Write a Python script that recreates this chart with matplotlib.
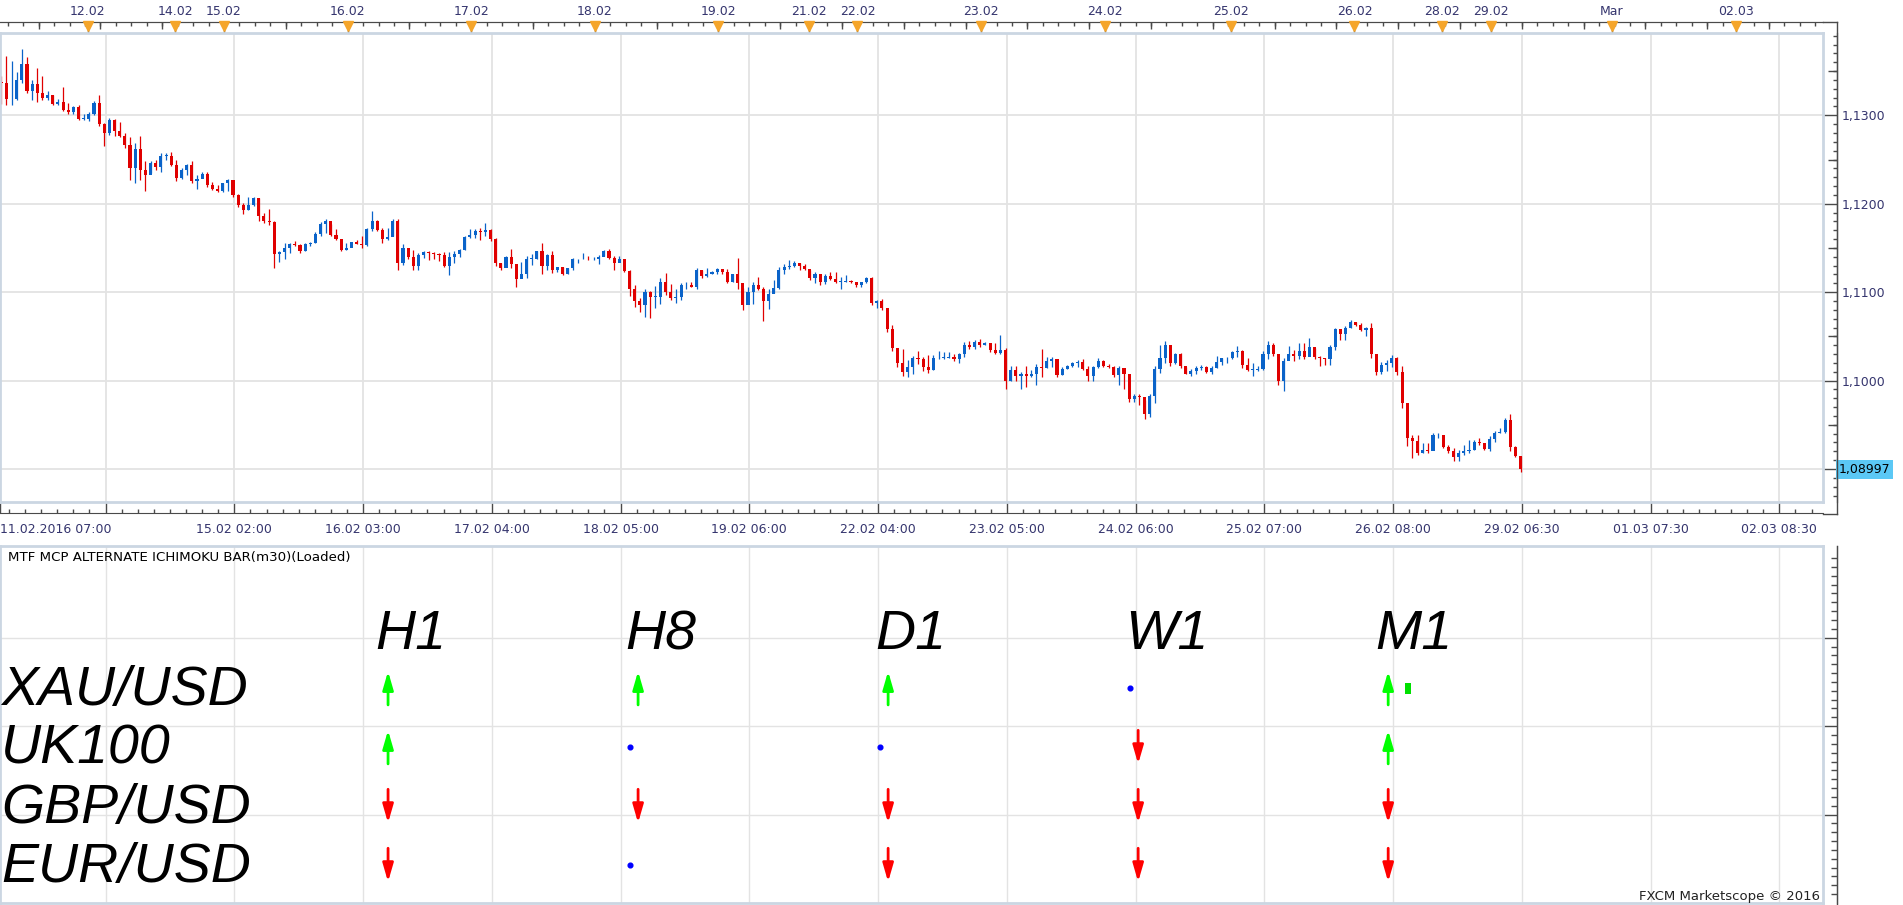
import numpy as np
import matplotlib.pyplot as plt
from matplotlib.lines import Line2D
from matplotlib.patches import Rectangle
from matplotlib.transforms import blended_transform_factory

first_open = 1.1338
high = [1.1344, 1.1367, 1.1361, 1.1349, 1.1375, 1.1366, 1.1340, 1.1354, 1.1344, 1.1327,
        1.1323, 1.1318, 1.1332, 1.1314, 1.1310, 1.1312, 1.1302, 1.1304, 1.1316, 1.1323,
        1.1291, 1.1297, 1.1296, 1.1292, 1.1280, 1.1276, 1.1269, 1.1277, 1.1248, 1.1248,
        1.1249, 1.1257, 1.1257, 1.1258, 1.1250, 1.1240, 1.1245, 1.1248, 1.1233, 1.1236,
        1.1236, 1.1225, 1.1221, 1.1224, 1.1228, 1.1225, 1.1211, 1.1201, 1.1208, 1.1208,
        1.1206, 1.1190, 1.1194, 1.1180, 1.1146, 1.1156, 1.1156, 1.1158, 1.1154, 1.1156,
        1.1157, 1.1168, 1.1179, 1.1183, 1.1177, 1.1171, 1.1160, 1.1156, 1.1157, 1.1159,
        1.1163, 1.1173, 1.1192, 1.1182, 1.1172, 1.1172, 1.1183, 1.1183, 1.1155, 1.1148,
        1.1148, 1.1144, 1.1146, 1.1146, 1.1145, 1.1144, 1.1145, 1.1145, 1.1146, 1.1149,
        1.1164, 1.1171, 1.1171, 1.1173, 1.1178, 1.1171, 1.1161, 1.1133, 1.1141, 1.1149,
        1.1131, 1.1134, 1.1141, 1.1143, 1.1146, 1.1156, 1.1143, 1.1146, 1.1129, 1.1128,
        1.1127, 1.1139, 1.1138, 1.1144, 1.1141, 1.1140, 1.1142, 1.1148, 1.1149, 1.1141,
        1.1141, 1.1129, 1.1125, 1.1108, 1.1093, 1.1103, 1.1101, 1.1107, 1.1116, 1.1122,
        1.1109, 1.1104, 1.1110, 1.1111, 1.1112, 1.1127, 1.1125, 1.1127, 1.1124, 1.1127,
        1.1126, 1.1126, 1.1121, 1.1139, 1.1105, 1.1106, 1.1112, 1.1117, 1.1106, 1.1103,
        1.1114, 1.1129, 1.1132, 1.1136, 1.1135, 1.1133, 1.1132, 1.1125, 1.1123, 1.1120,
        1.1121, 1.1123, 1.1123, 1.1117, 1.1119, 1.1114, 1.1112, 1.1112, 1.1117, 1.1117,
        1.1091, 1.1092, 1.1080, 1.1063, 1.1035, 1.1036, 1.1023, 1.1028, 1.1034, 1.1027,
        1.1029, 1.1029, 1.1034, 1.1032, 1.1032, 1.1030, 1.1031, 1.1044, 1.1045, 1.1046,
        1.1047, 1.1044, 1.1041, 1.1042, 1.1051, 1.1037, 1.1016, 1.1017, 1.1010, 1.1017,
        1.1012, 1.1019, 1.1036, 1.1027, 1.1027, 1.1017, 1.1015, 1.1018, 1.1021, 1.1023,
        1.1024, 1.1016, 1.1017, 1.1025, 1.1023, 1.1019, 1.1016, 1.1016, 1.1014, 1.1000,
        1.0985, 1.0985, 1.0978, 1.0985, 1.1017, 1.1040, 1.1045, 1.1039, 1.1031, 1.1031,
        1.1015, 1.1013, 1.1016, 1.1018, 1.1017, 1.1016, 1.1028, 1.1026, 1.1027, 1.1034,
        1.1039, 1.1035, 1.1026, 1.1020, 1.1016, 1.1033, 1.1045, 1.1043, 1.1028, 1.1026,
        1.1039, 1.1035, 1.1043, 1.1043, 1.1048, 1.1037, 1.1028, 1.1026, 1.1040, 1.1060,
        1.1054, 1.1062, 1.1068, 1.1066, 1.1065, 1.1061, 1.1065, 1.1028, 1.1021, 1.1023,
        1.1029, 1.1027, 1.1017, 1.0975, 1.0939, 1.0939, 1.0929, 1.0929, 1.0941, 1.0941,
        1.0939, 1.0927, 1.0924, 1.0922, 1.0927, 1.0933, 1.0933, 1.0935, 1.0929, 1.0937,
        1.0943, 1.0946, 1.0958, 1.0962, 1.0926, 1.0915]
low = [1.1313, 1.1312, 1.1312, 1.1317, 1.1336, 1.1325, 1.1317, 1.1315, 1.1317, 1.1317,
       1.1312, 1.1312, 1.1305, 1.1302, 1.1302, 1.1295, 1.1295, 1.1293, 1.1300, 1.1288,
       1.1265, 1.1278, 1.1277, 1.1276, 1.1263, 1.1227, 1.1223, 1.1227, 1.1214, 1.1235,
       1.1238, 1.1236, 1.1250, 1.1243, 1.1226, 1.1228, 1.1232, 1.1223, 1.1217, 1.1229,
       1.1219, 1.1216, 1.1213, 1.1213, 1.1214, 1.1208, 1.1196, 1.1188, 1.1193, 1.1197,
       1.1180, 1.1178, 1.1176, 1.1127, 1.1134, 1.1137, 1.1144, 1.1152, 1.1144, 1.1147,
       1.1152, 1.1156, 1.1164, 1.1167, 1.1163, 1.1159, 1.1147, 1.1148, 1.1152, 1.1154,
       1.1150, 1.1152, 1.1169, 1.1169, 1.1156, 1.1159, 1.1163, 1.1125, 1.1131, 1.1137,
       1.1125, 1.1125, 1.1139, 1.1136, 1.1138, 1.1135, 1.1129, 1.1119, 1.1133, 1.1140,
       1.1148, 1.1161, 1.1161, 1.1159, 1.1164, 1.1158, 1.1130, 1.1125, 1.1129, 1.1127,
       1.1106, 1.1116, 1.1116, 1.1131, 1.1137, 1.1120, 1.1125, 1.1122, 1.1123, 1.1119,
       1.1120, 1.1125, 1.1133, 1.1137, 1.1136, 1.1136, 1.1132, 1.1141, 1.1137, 1.1125,
       1.1135, 1.1123, 1.1096, 1.1083, 1.1078, 1.1072, 1.1071, 1.1082, 1.1087, 1.1097,
       1.1091, 1.1088, 1.1091, 1.1103, 1.1106, 1.1103, 1.1116, 1.1117, 1.1120, 1.1121,
       1.1120, 1.1110, 1.1112, 1.1103, 1.1080, 1.1087, 1.1087, 1.1102, 1.1067, 1.1081,
       1.1099, 1.1103, 1.1121, 1.1126, 1.1128, 1.1125, 1.1125, 1.1114, 1.1110, 1.1108,
       1.1109, 1.1114, 1.1110, 1.1104, 1.1112, 1.1110, 1.1106, 1.1106, 1.1110, 1.1085,
       1.1082, 1.1080, 1.1055, 1.1034, 1.1015, 1.1005, 1.1004, 1.1007, 1.1019, 1.1011,
       1.1009, 1.1012, 1.1024, 1.1024, 1.1026, 1.1022, 1.1020, 1.1027, 1.1036, 1.1036,
       1.1038, 1.1040, 1.1032, 1.1030, 1.1030, 1.0991, 1.1000, 1.1000, 1.0990, 1.0993,
       1.1004, 1.0995, 1.1004, 1.1014, 1.1015, 1.1004, 1.1006, 1.1013, 1.1015, 1.1015,
       1.1012, 1.1000, 1.0999, 1.1014, 1.1015, 1.1014, 1.1004, 1.0995, 1.0991, 1.0976,
       1.0976, 1.0972, 1.0956, 1.0959, 1.0975, 1.1009, 1.1020, 1.1016, 1.1019, 1.1014,
       1.1007, 1.1005, 1.1008, 1.1012, 1.1009, 1.1007, 1.1014, 1.1018, 1.1020, 1.1024,
       1.1027, 1.1014, 1.1011, 1.1005, 1.1011, 1.1012, 1.1024, 1.1028, 1.0995, 1.0988,
       1.1027, 1.1022, 1.1024, 1.1024, 1.1031, 1.1024, 1.1016, 1.1018, 1.1018, 1.1035,
       1.1046, 1.1046, 1.1060, 1.1062, 1.1056, 1.1050, 1.1025, 1.1006, 1.1007, 1.1011,
       1.1015, 1.1006, 1.0969, 1.0926, 1.0912, 1.0916, 1.0918, 1.0918, 1.0924, 1.0935,
       1.0924, 1.0918, 1.0909, 1.0909, 1.0916, 1.0918, 1.0922, 1.0927, 1.0922, 1.0920,
       1.0931, 1.0941, 1.0941, 1.0920, 1.0914, 1.0897]
close = [1.1336, 1.1318, 1.1318, 1.1340, 1.1358, 1.1328, 1.1335, 1.1325, 1.1320, 1.1323,
         1.1313, 1.1315, 1.1306, 1.1304, 1.1309, 1.1296, 1.1296, 1.1302, 1.1314, 1.1290,
         1.1280, 1.1295, 1.1282, 1.1277, 1.1266, 1.1240, 1.1262, 1.1238, 1.1232, 1.1246,
         1.1242, 1.1254, 1.1254, 1.1244, 1.1229, 1.1238, 1.1244, 1.1226, 1.1228, 1.1234,
         1.1221, 1.1217, 1.1214, 1.1223, 1.1227, 1.1210, 1.1198, 1.1193, 1.1198, 1.1207,
         1.1186, 1.1180, 1.1179, 1.1143, 1.1145, 1.1150, 1.1155, 1.1153, 1.1146, 1.1155,
         1.1156, 1.1166, 1.1177, 1.1180, 1.1165, 1.1160, 1.1148, 1.1150, 1.1157, 1.1154,
         1.1153, 1.1171, 1.1180, 1.1170, 1.1160, 1.1162, 1.1180, 1.1133, 1.1150, 1.1140,
         1.1130, 1.1142, 1.1145, 1.1144, 1.1143, 1.1142, 1.1130, 1.1140, 1.1143, 1.1148,
         1.1162, 1.1165, 1.1169, 1.1168, 1.1170, 1.1160, 1.1133, 1.1127, 1.1140, 1.1132,
         1.1115, 1.1120, 1.1138, 1.1138, 1.1146, 1.1130, 1.1142, 1.1125, 1.1128, 1.1120,
         1.1127, 1.1137, 1.1137, 1.1138, 1.1137, 1.1137, 1.1140, 1.1146, 1.1139, 1.1133,
         1.1137, 1.1124, 1.1103, 1.1090, 1.1086, 1.1100, 1.1095, 1.1095, 1.1112, 1.1100,
         1.1093, 1.1095, 1.1108, 1.1108, 1.1106, 1.1125, 1.1118, 1.1120, 1.1123, 1.1126,
         1.1123, 1.1112, 1.1120, 1.1110, 1.1085, 1.1100, 1.1108, 1.1104, 1.1090, 1.1098,
         1.1105, 1.1125, 1.1128, 1.1130, 1.1133, 1.1130, 1.1126, 1.1116, 1.1120, 1.1112,
         1.1118, 1.1115, 1.1112, 1.1112, 1.1113, 1.1111, 1.1108, 1.1111, 1.1116, 1.1088,
         1.1090, 1.1082, 1.1058, 1.1037, 1.1020, 1.1010, 1.1015, 1.1025, 1.1024, 1.1015,
         1.1012, 1.1025, 1.1026, 1.1026, 1.1027, 1.1024, 1.1030, 1.1040, 1.1038, 1.1044,
         1.1040, 1.1042, 1.1035, 1.1031, 1.1035, 1.1000, 1.1012, 1.1005, 1.1008, 1.1005,
         1.1007, 1.1015, 1.1014, 1.1022, 1.1024, 1.1006, 1.1013, 1.1017, 1.1020, 1.1021,
         1.1013, 1.1005, 1.1015, 1.1022, 1.1016, 1.1015, 1.1006, 1.1014, 1.1008, 1.0979,
         1.0983, 1.0981, 1.0962, 1.0983, 1.1013, 1.1025, 1.1040, 1.1020, 1.1030, 1.1016,
         1.1008, 1.1011, 1.1014, 1.1015, 1.1010, 1.1014, 1.1021, 1.1025, 1.1026, 1.1032,
         1.1033, 1.1018, 1.1012, 1.1012, 1.1013, 1.1030, 1.1040, 1.1030, 1.1000, 1.1022,
         1.1030, 1.1028, 1.1033, 1.1027, 1.1038, 1.1027, 1.1025, 1.1024, 1.1038, 1.1058,
         1.1053, 1.1060, 1.1066, 1.1063, 1.1057, 1.1059, 1.1030, 1.1010, 1.1018, 1.1020,
         1.1026, 1.1010, 1.0975, 1.0935, 1.0932, 1.0918, 1.0922, 1.0920, 1.0938, 1.0938,
         1.0925, 1.0920, 1.0914, 1.0918, 1.0920, 1.0922, 1.0931, 1.0929, 1.0923, 1.0934,
         1.0941, 1.0942, 1.0955, 1.0925, 1.0915, 1.08997]

# time axis (m30 bar index), a grid line every 50 bars
first_label = '11.02.2016 07:00'
time_labels = ['', '15.02 02:00', '16.02 03:00', '17.02 04:00', '18.02 05:00',
               '19.02 06:00', '22.02 04:00', '23.02 05:00', '24.02 06:00',
               '25.02 07:00', '26.02 08:00', '29.02 06:30', '01.03 07:30', '02.03 08:30']
day_bars = [34, 68, 87, 135, 183, 231, 279, 314, 333, 381, 429, 478, 526, 560, 579, 626, 674]
day_labels = ['12.02', '14.02', '15.02', '16.02', '17.02', '18.02', '19.02', '21.02', '22.02',
              '23.02', '24.02', '25.02', '26.02', '28.02', '29.02', 'Mar', '02.03']
price_ticks = [1.09, 1.10, 1.11, 1.12, 1.13]

# MTF indicator pane
symbols = ['XAU/USD', 'UK100', 'GBP/USD', 'EUR/USD']
frames = ['H1', 'H8', 'D1', 'W1', 'M1']
signal = [[1, 1, 1, 0, 1],
          [1, 0, 0, -1, 1],
          [-1, -1, -1, -1, -1],
          [-1, 0, -1, -1, -1]]

## layout (pixels)

W, H = 1903, 905
PXB = 2.575           # pixels per m30 bar
PANE_R = 1823
AXIS_X = 1837
XMAX = PANE_R / PXB

frame_col = '#cbd6e2'
grid_col = '#e3e3e3'
axis_col = '#4a4a4a'
lab_col = '#35356e'
up_col = '#0a63c9'
dn_col = '#e00000'


def box(x0, y0, x1, y1):
    return [x0 / W, 1 - y1 / H, (x1 - x0) / W, (y1 - y0) / H]


def fline(x0, y0, x1, y1):
    fig.add_artist(Line2D([x0 / W, x1 / W], [1 - y0 / H, 1 - y1 / H],
                          color=axis_col, lw=1.0, transform=fig.transFigure))


def comma(v, nd=4):
    return f'{v:.{nd}f}'.replace('.', ',')


fig = plt.figure(figsize=(W / 100, H / 100), dpi=100)
grid_bars = 41 + 50 * np.arange(14)

## price pane

ax = fig.add_axes(box(0, 33, PANE_R, 502))
ax.set_xlim(0, XMAX)
ax.set_ylim(1.086268, 1.139307)

cl = np.array(close)
op = np.array([first_open] + close[:-1])
hi = np.array(high)
lo = np.array(low)
xs = 2 * np.arange(len(cl)) + 0.5
cols = np.where(cl >= op, up_col, dn_col)
ax.vlines(xs, lo, hi, colors=cols, lw=0.9)
ax.bar(xs, np.maximum(np.abs(cl - op), 0.00006), bottom=np.minimum(cl, op),
       width=1.2, color=cols, linewidth=0)

ax.set_xticks(grid_bars)
ax.set_yticks(price_ticks)
ax.grid(True, color=grid_col, lw=1.3)
ax.set_axisbelow(True)
ax.tick_params(length=0, labelbottom=False, labelleft=False)
for s in ax.spines.values():
    s.set_color(frame_col)
    s.set_linewidth(2)

# bottom ruler
sb = ax.secondary_xaxis(-11.5 / 469)
sb.set_xticks(np.concatenate([[0], grid_bars]), labels=[first_label] + time_labels)
sb.set_xticks(np.arange(41 - 6.25 * 6, XMAX, 6.25), minor=True)
sb.tick_params(which='major', direction='in', length=8.5, width=1, color=axis_col,
               labelsize=9, labelcolor=lab_col, pad=7)
sb.tick_params(which='minor', direction='in', length=3, width=1, color=axis_col)
sb.spines['bottom'].set_color(axis_col)
sb.get_xticklabels()[0].set_ha('left')

# top ruler with day markers
st = ax.secondary_xaxis(1 + 11 / 469)
st.set_xticks(day_bars, labels=day_labels)
st.set_xticks(np.arange(3, XMAX, 6), minor=True)
st.tick_params(which='major', direction='in', length=8, width=1, color=axis_col,
               labelsize=9, labelcolor=lab_col, pad=3)
st.tick_params(which='minor', direction='in', length=3, width=1, color=axis_col)
st.spines['top'].set_color(axis_col)
st2 = ax.secondary_xaxis(1 + 11 / 469)
st2.set_xticks(np.arange(15, XMAX, 24), labels=[])
st2.tick_params(direction='in', length=5, width=1, color=axis_col)
st2.spines['top'].set_color(axis_col)
tr = blended_transform_factory(ax.transData, ax.transAxes)
ax.plot(day_bars, [1 + 6.5 / 469] * len(day_bars), 'v', ms=7.5, color='#f5a52a',
        mec='#f5a52a', transform=tr, clip_on=False, zorder=5)

# right price axis
sr = ax.secondary_yaxis(1 + 14 / 1823)
sr.set_yticks(price_ticks, labels=[''] + [comma(v) for v in price_ticks[1:]])
sr.set_yticks(np.arange(1.087, 1.1395, 0.001), minor=True)
sr.tick_params(which='major', direction='in', length=10, width=1, color=axis_col,
               labelsize=9, labelcolor=lab_col, pad=3.5)
sr.tick_params(which='minor', direction='in', length=3, width=1, color=axis_col)
sr.spines['right'].set_color(axis_col)
sr2 = ax.secondary_yaxis(1 + 14 / 1823)
sr2.set_yticks(np.arange(1.085, 1.14, 0.01), labels=[])
sr2.tick_params(direction='in', length=6.5, width=1, color=axis_col)
sr2.spines['right'].set_color(axis_col)

ax.text(1 + 15.5 / 1823, close[-1], comma(close[-1], 5),
        transform=blended_transform_factory(ax.transAxes, ax.transData),
        ha='left', va='center', fontsize=9, color='black', clip_on=False, zorder=10,
        bbox=dict(boxstyle='square,pad=0.22', fc='#5bc8f5', ec='none'))

# axis line pieces outside the pane
fline(AXIS_X, 21.7, AXIS_X, 514)
fline(PANE_R, 21.7, AXIS_X, 21.7)
fline(PANE_R, 513.5, AXIS_X, 513.5)

## indicator pane

ax2 = fig.add_axes(box(0, 546, PANE_R, 903))
ax2.set_xlim(0, XMAX)
ax2.set_ylim(0, 357 / 88.43)
ax2.set_xticks(grid_bars)
ax2.set_yticks([1, 2, 3])
ax2.grid(True, color=grid_col, lw=1.0)
ax2.set_axisbelow(True)
ax2.tick_params(length=0, labelbottom=False, labelleft=False)
for s in ax2.spines.values():
    s.set_color(frame_col)
    s.set_linewidth(2)

srl = ax2.secondary_yaxis(1 + 14 / 1823)
srl.set_yticks([1, 2, 3], labels=[])
srl.set_yticks(np.arange(0.1, 4.0, 0.1), minor=True)
srl.tick_params(which='major', direction='in', length=10, width=1, color=axis_col)
srl.tick_params(which='minor', direction='in', length=4, width=1, color=axis_col)
srl.spines['right'].set_color(axis_col)
fline(AXIS_X, 546, AXIS_X, 905)

ax2.text(8 / 1823, (903 - 557) / 357, 'MTF MCP ALTERNATE ICHIMOKU BAR(m30)(Loaded)',
         transform=ax2.transAxes, ha='left', va='center', fontsize=9.6, color='black')

col_x = 150.7 + 97.1 * np.arange(len(frames))
row_y = 2.40 - 0.667 * np.arange(len(symbols))
big = dict(family='Liberation Sans', style='italic', fontsize=40, color='black')
for j, f in enumerate(frames):
    ax2.text(col_x[j] - 5, 3.03, f, ha='left', va='center', **big)
for i, s in enumerate(symbols):
    ax2.text(0.5, row_y[i], s, ha='left', va='center', **big)
    for j in range(len(frames)):
        sig = signal[i][j]
        if sig == 0:
            ax2.plot(col_x[j] - 3, row_y[i] + 0.03, 'o', ms=3.4, color='#0000ff', mec='#0000ff')
            continue
        c = '#00ff00' if sig > 0 else '#ff0000'
        y0, y1 = row_y[i] + 0.03 - 0.19 * sig, row_y[i] + 0.03 + 0.19 * sig
        ax2.annotate('', xy=(col_x[j], y1), xytext=(col_x[j], y0),
                     arrowprops=dict(arrowstyle='-|>,head_length=0.55,head_width=0.16',
                                     mutation_scale=20, color=c, lw=2.0,
                                     shrinkA=0, shrinkB=0))
# small marker after the M1 arrow of the first row
ax2.add_patch(Rectangle((col_x[-1] + 6.6, row_y[0] - 0.035), 2.3, 0.124,
                        color='#00e000', lw=0))

fig.text(1820 / W, 1 - 896 / H, 'FXCM Marketscope \u00a9 2016', ha='right', va='center',
         fontsize=9.5, color='#222222')

plt.savefig('out.png', dpi=100)
